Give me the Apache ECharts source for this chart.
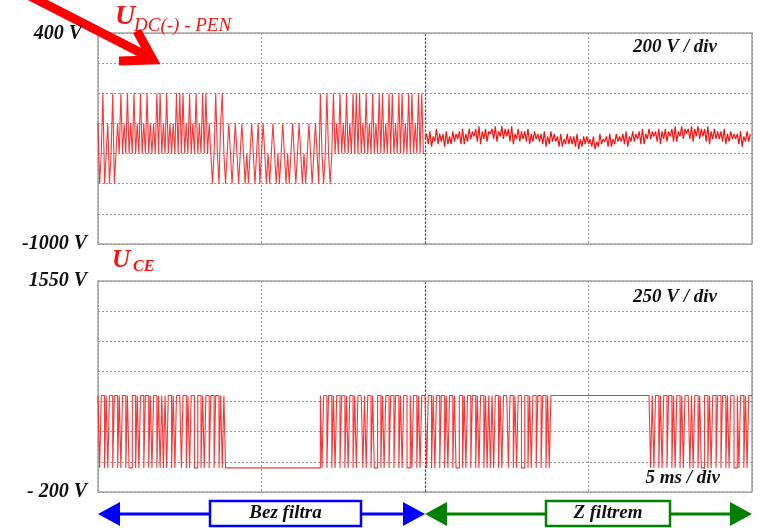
<!DOCTYPE html>
<html>
<head>
<meta charset="utf-8">
<script src="https://cdn.jsdelivr.net/npm/echarts@6/dist/echarts.min.js"></script>
<style>
  html, body { margin: 0; padding: 0; background: #fff; }
  #chart { width: 761px; height: 528px; }
</style>
</head>
<body>
<div id="chart"></div>
<script>
// Time base: 5 ms / div, four divisions (one 50 Hz period)
const timeAxis = { min: 0, max: 20, step: 5 };
const slotMs = 0.05; // one character of a switching pattern = 0.05 ms

// Upper trace: U DC(-) - PEN, 200 V / div
const dcAxis = { min: -1000, max: 400, step: 200 };
const dcTickLabels = { '400': '400 V', '-1000': '-1000 V' };
// switching levels (V) used by the pattern characters
const dcLevels = { a: 0, b: -200, c: -400, d: -600 };
// 0 .. 10 ms, without filter (ten characters per 0.5 ms)
const dcSwitching = [
  'bdcadcbdca', 'dcbcacbcac', 'bcacbcacbc', 'acbcbcacac', 'bcacbcbcac',
  'acacbcacbc', 'acbcacacbc', 'dcacdbacdc', 'bcdcbcdcbc', 'dcdcbcdcbd',
  'cbcdcdcbcd', 'cdcbcdcdcb', 'cdcbcdcdcb', 'cdcbcdacdc', 'acdcacbcac',
  'bcacbcacac', 'acbcacbcac', 'bcacacbcac', 'acbcacacbc', 'acacbcacac'
];
// 10 .. 20 ms, with filter: ripple samples, digit d -> rippleBase + (d - 4.5) * rippleStep
const rippleBase = -295;
const rippleStep = 17;
const dcRipple = [
  '4627153826', '3617252736', '4728263847', '5839274837', '6849375948',
  '5839264837', '4738263746', '3627152736', '3516142625', '2516041525',
  '2415031624', '3516142635', '3627153736', '4728264847', '5738274837',
  '5839375948', '6849385948', '5839274847', '4738263746', '4627153736'
];

// Lower trace: U CE, 250 V / div
const ceAxis = { min: -200, max: 1550, step: 250 };
const ceTickLabels = { '1550': '1550 V', '-200': '- 200 V' };
const ceLevels = { '0': 0, '1': 600 };
// 0 .. 20 ms (ten characters per 0.5 ms)
const ceSwitching = [
  '1011010110', '1101011010', '0110101101', '1010110101', '0101101011',
  '1011010110', '0110101101', '1011010100', '0000000000', '0000000000',
  '0000000000', '0000000000', '0000000000', '0000001011', '0110101101',
  '1010110101', '1101011010', '0110101101', '1011010110', '0101101011',
  '1011010110', '1101011010', '0110101101', '1010110101', '0101101011',
  '1011010110', '0110101101', '1011010111', '1111111111', '1111111111',
  '1111111111', '1111111111', '1111111111', '1111111101', '0110101101',
  '1010110101', '1101011010', '0110101101', '1011010110', '0101101011'
];

const scaleTexts = ['200 V / div', '250 V / div', '5 ms / div'];
const spanTexts = ['Bez filtra', 'Z filtrem'];

// turn a pattern into [time, value] corner points of a square wave
function stepPoints(chunks, levels, t0) {
  const s = chunks.join('');
  const pts = [[t0, levels[s[0]]]];
  for (let i = 1; i < s.length; i++) {
    const t = t0 + i * slotMs;
    if (s[i] !== s[i - 1]) pts.push([t, levels[s[i - 1]]]);
    pts.push([t, levels[s[i]]]);
  }
  pts.push([t0 + s.length * slotMs, levels[s[s.length - 1]]]);
  return pts;
}
function ripplePoints(chunks, t0) {
  const s = chunks.join('');
  const pts = [];
  for (let i = 0; i < s.length; i++) pts.push([t0 + i * slotMs, rippleBase + (Number(s[i]) - 4.5) * rippleStep]);
  return pts;
}

const serif = '"Liberation Serif", "Times New Roman", serif';
const red = '#ff1010';

const gridBox = { left: 98, width: 654, height: 211 };
const splitStyle = { color: '#9a9a9a', width: 1, type: [2, 2] };

function xAxisFor(idx) {
  return {
    type: 'value', gridIndex: idx, min: timeAxis.min, max: timeAxis.max, interval: timeAxis.step,
    axisLine: { show: false }, axisTick: { show: false }, axisLabel: { show: false },
    splitLine: { show: true, lineStyle: splitStyle }
  };
}
function yAxisFor(idx, ax, labels, topPad) {
  return {
    type: 'value', gridIndex: idx, min: ax.min, max: ax.max, interval: ax.step,
    axisLine: { show: false }, axisTick: { show: false },
    axisLabel: {
      margin: 11, color: '#111', fontFamily: serif, fontStyle: 'italic', fontWeight: 'bold', fontSize: 20,
      formatter: v => {
        const s = labels[String(v)] || '';
        return v === ax.max && topPad ? '{t|' + s + '}' : s;
      },
      rich: { t: { padding: [2, topPad || 0, 0, 0], fontFamily: serif, fontStyle: 'italic', fontWeight: 'bold', fontSize: 20, color: '#111' } }
    },
    splitLine: { show: true, lineStyle: splitStyle }
  };
}
const centerMark = {
  silent: true, symbol: 'none', label: { show: false },
  lineStyle: { color: '#555', width: 1.2, type: [2, 2] },
  data: [{ xAxis: 10 }]
};

const chart = echarts.init(document.getElementById('chart'), null, { renderer: 'canvas' });
chart.setOption({
  animation: false,
  backgroundColor: '#ffffff',
  grid: [
    Object.assign({ top: 33, show: true, borderColor: '#a4a4a4', borderWidth: 1.5, backgroundColor: '#fff' }, gridBox),
    Object.assign({ top: 281, show: true, borderColor: '#a4a4a4', borderWidth: 1.5, backgroundColor: '#fff' }, gridBox)
  ],
  xAxis: [xAxisFor(0), xAxisFor(1)],
  yAxis: [yAxisFor(0, dcAxis, dcTickLabels, 5), yAxisFor(1, ceAxis, ceTickLabels, 0)],
  series: [
    {
      type: 'line', xAxisIndex: 0, yAxisIndex: 0, showSymbol: false, sampling: null,
      lineStyle: { color: red, width: 1.1, opacity: 0.85 }, data: stepPoints(dcSwitching, dcLevels, 0),
      markLine: centerMark
    },
    {
      type: 'line', xAxisIndex: 0, yAxisIndex: 0, showSymbol: false,
      lineStyle: { color: red, width: 1.2 }, data: ripplePoints(dcRipple, 10)
    },
    {
      type: 'line', xAxisIndex: 1, yAxisIndex: 1, showSymbol: false, sampling: null,
      lineStyle: { color: red, width: 1.1, opacity: 0.85 }, data: stepPoints(ceSwitching, ceLevels, 0),
      markLine: centerMark
    }
  ]
});

// annotations: titles, scale notes, pointer arrow and the two time-span arrows
const x0 = chart.convertToPixel({ xAxisIndex: 1 }, 0);
const xm = chart.convertToPixel({ xAxisIndex: 1 }, 10);
const x1 = chart.convertToPixel({ xAxisIndex: 1 }, 20);
const arrowY = 514;

function txt(x, y, s, size, opts) {
  return {
    type: 'text', x: x, y: y, silent: true,
    style: Object.assign({
      text: s, font: 'italic bold ' + size + 'px ' + serif, fill: '#111',
      textAlign: 'left', textVerticalAlign: 'middle'
    }, opts || {})
  };
}
function spanArrow(xa, xb, color, label, boxL, boxR) {
  const head = 22, half = 12;
  return [
    { type: 'line', silent: true, shape: { x1: xa + head - 2, y1: arrowY, x2: xb - head + 2, y2: arrowY },
      style: { stroke: color, lineWidth: 3 } },
    { type: 'polygon', silent: true, shape: { points: [[xa, arrowY], [xa + head, arrowY - half], [xa + head, arrowY + half]] },
      style: { fill: color } },
    { type: 'polygon', silent: true, shape: { points: [[xb, arrowY], [xb - head, arrowY - half], [xb - head, arrowY + half]] },
      style: { fill: color } },
    { type: 'rect', silent: true, shape: { x: boxL, y: 501, width: boxR - boxL, height: 25 },
      style: { fill: '#fff', stroke: color, lineWidth: 2.5 } },
    txt((boxL + boxR) / 2, 513, label, 19, { textAlign: 'center' })
  ];
}

chart.setOption({
  graphic: [
    txt(115, 17, 'U', 28, { fill: red }),
    txt(134, 26, 'DC(-) - PEN', 19, { fill: red, font: 'italic 19px ' + serif }),
    txt(112, 261, 'U', 25, { fill: red }),
    txt(133, 267, 'CE', 16, { fill: red }),
    txt(717, 47, scaleTexts[0], 19, { textAlign: 'right' }),
    txt(717, 297, scaleTexts[1], 19, { textAlign: 'right' }),
    txt(720, 478, scaleTexts[2], 19, { textAlign: 'right' }),
    { type: 'line', silent: true, shape: { x1: 26, y1: -6, x2: 149, y2: 57 },
      style: { stroke: '#ff0000', lineWidth: 9 } },
    { type: 'polyline', silent: true, shape: { points: [[137, 31], [153, 60], [119, 61]] },
      style: { stroke: '#ff0000', lineWidth: 9, lineJoin: 'miter', lineCap: 'butt' } }
  ].concat(
    spanArrow(x0, xm, '#0000ff', spanTexts[0], 210, 361),
    spanArrow(xm, x1, '#008000', spanTexts[1], 546, 670)
  )
});
</script>
</body>
</html>
